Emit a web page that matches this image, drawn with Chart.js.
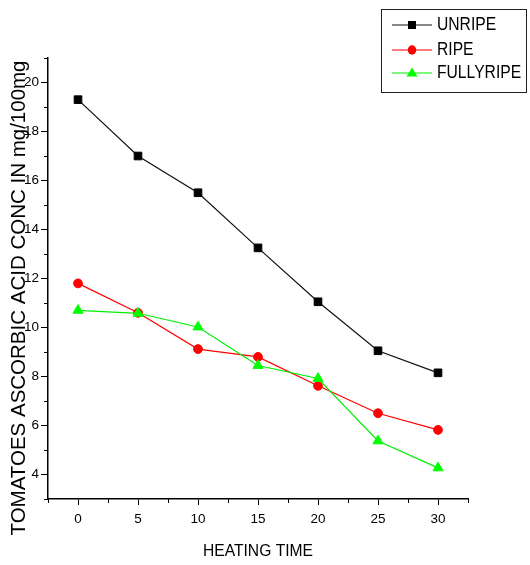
<!DOCTYPE html>
<html>
<head>
<meta charset="utf-8">
<script src="https://cdn.jsdelivr.net/npm/chart.js@4/dist/chart.umd.min.js"></script>
<style>
    html, body { margin: 0; padding: 0; background: #fff; }
    #wrap { width: 530px; height: 565px; }
</style>
</head>
<body>
<div id="wrap"><canvas id="myChart" width="530" height="565"></canvas></div>
<script>
// heating time (x) and ascorbic acid values
const heatingTime = [0, 5, 10, 15, 20, 25, 30];
const unripe = [19.3, 17.0, 15.5, 13.25, 11.05, 9.05, 8.15];
const ripe = [11.8, 10.6, 9.12, 8.8, 7.62, 6.5, 5.82];
const fullyRipe = [10.7, 10.58, 10.02, 8.45, 7.92, 5.37, 4.27];

const xTicks = [0, 5, 10, 15, 20, 25, 30];
const yTicks = [4, 6, 8, 10, 12, 14, 16, 18, 20];
const xMinorTicks = [-2.5, 2.5, 7.5, 12.5, 17.5, 22.5, 27.5, 32.5];
const yMinorTicks = [3, 5, 7, 9, 11, 13, 15, 17, 19, 21];

const seriesNames = ["UNRIPE", "RIPE", "FULLYRIPE"];

const FONT = "'Liberation Sans', Arial, sans-serif";

function toPoints(values) {
    return values.map((v, i) => ({ x: heatingTime[i], y: v }));
}

// text squeezed a little, the original uses a narrow face
function narrowText(ctx, text, x, y, size, squeeze) {
    ctx.save();
    ctx.translate(x, y);
    ctx.scale(squeeze, 1);
    ctx.font = size + "px " + FONT;
    ctx.fillText(text, 0, 0);
    ctx.restore();
}

// minor ticks, axis titles and the boxed legend
const extras = {
    id: "extras",
    afterDraw(chart) {
        const ctx = chart.ctx;
        const xs = chart.scales.x;
        const ys = chart.scales.y;
        const area = chart.chartArea;

        ctx.save();
        ctx.strokeStyle = "#000";
        ctx.lineWidth = 1;
        xMinorTicks.forEach(v => {
            const px = Math.round(xs.getPixelForValue(v)) + 0.5;
            ctx.beginPath();
            ctx.moveTo(px, area.bottom);
            ctx.lineTo(px, area.bottom + 4);
            ctx.stroke();
        });
        yMinorTicks.forEach(v => {
            const py = Math.round(ys.getPixelForValue(v)) + 0.5;
            ctx.beginPath();
            ctx.moveTo(area.left - 4, py);
            ctx.lineTo(area.left, py);
            ctx.stroke();
        });

        // axis titles
        ctx.fillStyle = "#000";
        ctx.textAlign = "center";
        ctx.textBaseline = "middle";
        narrowText(ctx, "HEATING TIME", (area.left + area.right) / 2, 551, 17, 0.92);

        ctx.save();
        ctx.translate(25, 298);
        ctx.rotate(-Math.PI / 2);
        ctx.font = "20.5px " + FONT;
        ctx.textBaseline = "alphabetic";
        ctx.fillText("TOMATOES ASCORBIC ACID CONC IN mg/100mg", 0, 0);
        ctx.restore();

        // legend
        ctx.strokeStyle = "#222";
        ctx.lineWidth = 1;
        ctx.strokeRect(381.5, 9.5, 145, 83);
        const rows = [25, 50, 73];
        ctx.textAlign = "left";
        ctx.textBaseline = "middle";
        chart.data.datasets.forEach((ds, i) => {
            const y = rows[i];
            ctx.strokeStyle = ds.borderColor;
            ctx.lineWidth = 1.2;
            ctx.beginPath();
            ctx.moveTo(392, y);
            ctx.lineTo(432, y);
            ctx.stroke();
            ctx.fillStyle = ds.pointBackgroundColor;
            ctx.beginPath();
            if (ds.pointStyle === "rect") {
                ctx.rect(408, y - 4, 8, 8);
            } else if (ds.pointStyle === "circle") {
                ctx.ellipse(412, y, 4.3, 4.7, 0, 0, Math.PI * 2);
            } else {
                ctx.moveTo(412, y - 5.5);
                ctx.lineTo(417.5, y + 3.5);
                ctx.lineTo(406.5, y + 3.5);
                ctx.closePath();
            }
            ctx.fill();
            ctx.fillStyle = "#000";
            narrowText(ctx, ds.label, 437, y + 0.5, 18, 0.87);
        });
        ctx.restore();
    }
};

new Chart("myChart", {
    type: "line",
    data: {
        datasets: [{
            label: seriesNames[0],
            data: toPoints(unripe),
            borderColor: "#111",
            borderWidth: 1.2,
            pointStyle: "rect",
            pointRadius: 5.4,
            pointBackgroundColor: "#000",
            pointBorderColor: "#000",
            pointBorderWidth: 1,
            order: 2
        }, {
            label: seriesNames[1],
            data: toPoints(ripe),
            borderColor: "#ff0000",
            borderWidth: 1.2,
            pointStyle: "circle",
            pointRadius: 4.4,
            pointBackgroundColor: "#ff0000",
            pointBorderColor: "#ff0000",
            pointBorderWidth: 1,
            order: 1
        }, {
            label: seriesNames[2],
            data: toPoints(fullyRipe),
            borderColor: "#00ee00",
            borderWidth: 1.2,
            pointStyle: "triangle",
            pointRadius: 5.8,
            pointBackgroundColor: "#00ff00",
            pointBorderColor: "#00ff00",
            pointBorderWidth: 1,
            order: 0
        }]
    },
    options: {
        responsive: false,
        animation: false,
        layout: {
            padding: { top: 58, right: 62, left: 0, bottom: 0 }
        },
        scales: {
            x: {
                type: "linear",
                min: -2.5,
                max: 32.5,
                afterBuildTicks: scale => { scale.ticks = xTicks.map(v => ({ value: v })); },
                afterFit: scale => { scale.height = 66; },
                border: { display: true, color: "#000", width: 1.5 },
                grid: { drawOnChartArea: false, drawTicks: true, tickLength: 6, color: "#000", lineWidth: 1 },
                ticks: {
                    color: "#000",
                    padding: 6,
                    maxRotation: 0,
                    font: { size: 13.5, family: FONT }
                }
            },
            y: {
                min: 3,
                max: 21,
                afterBuildTicks: scale => { scale.ticks = yTicks.map(v => ({ value: v })); },
                afterFit: scale => { scale.width = 48; },
                border: { display: true, color: "#000", width: 1.5 },
                grid: { drawOnChartArea: false, drawTicks: true, tickLength: 7, color: "#000", lineWidth: 1 },
                ticks: {
                    color: "#000",
                    padding: 2,
                    font: { size: 13.5, family: FONT }
                }
            }
        },
        plugins: {
            legend: { display: false },
            tooltip: { enabled: false }
        }
    },
    plugins: [extras]
});
</script>
</body>
</html>
